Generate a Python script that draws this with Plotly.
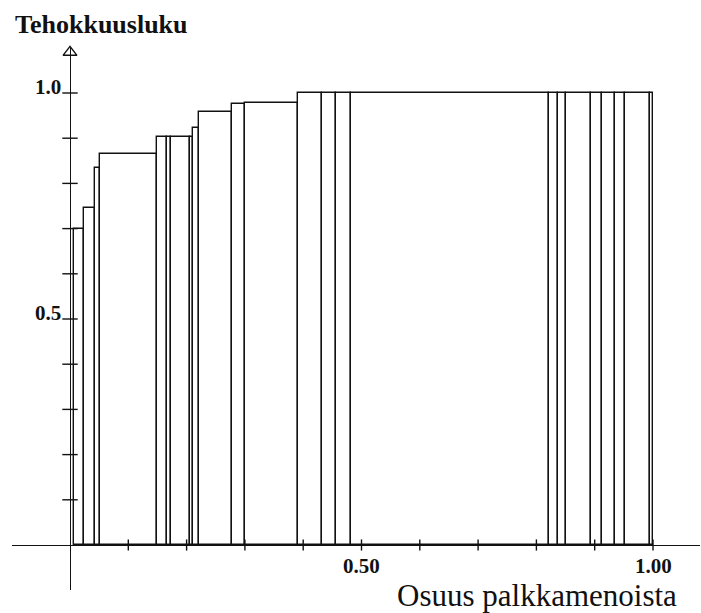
import numpy as np
import plotly.graph_objects as go

# ---- data ----
start_share = 0.0069  # gap before the first unit
shares = [0.0172, 0.0189, 0.0086, 0.0978, 0.0172, 0.0069, 0.0326, 0.0051, 0.0103,
          0.0566, 0.0223, 0.0909, 0.0412, 0.0240, 0.0257, 0.3400, 0.0154, 0.0137,
          0.0429, 0.0189, 0.0223, 0.0172, 0.0429, 0.0051]
scores = [0.700, 0.745, 0.835, 0.865, 0.903, 0.903, 0.903, 0.903, 0.922,
          0.958, 0.975, 0.978, 1.0, 1.0, 1.0, 1.0, 1.0, 1.0,
          1.0, 1.0, 1.0, 1.0, 1.0, 1.0]
y_ticks = [0.1, 0.2, 0.3, 0.4, 0.5, 0.6, 0.7, 0.8, 0.9, 1.0]
x_ticks = [0.1, 0.2, 0.3, 0.4, 0.5, 0.6, 0.7, 0.8, 0.9, 1.0]
y_labels = {0.5: "0.5", 1.0: "1.0"}
x_labels = {0.5: "0.50", 1.0: "1.00"}
y_title = "Tehokkuusluku"
x_title = "Osuus palkkamenoista"

# ---- geometry ----
w = np.array(shares)
left = start_share + np.concatenate([[0], np.cumsum(w)[:-1]])
centers = left + w / 2

INK = "#111111"
FONT = "Liberation Serif, Times New Roman, serif"

fig = go.Figure()
fig.add_trace(go.Bar(
    x=centers, y=scores, width=w,
    marker=dict(color="white", line=dict(color=INK, width=1.4)),
    hoverinfo="skip", showlegend=False,
))
# y-axis ticks (crossing)
fig.add_trace(go.Scatter(
    x=[0] * len(y_ticks), y=y_ticks, mode="markers",
    marker=dict(symbol="line-ew", size=11, line=dict(color=INK, width=1.4)),
    hoverinfo="skip", showlegend=False, cliponaxis=False,
))
# x-axis ticks (crossing)
fig.add_trace(go.Scatter(
    x=x_ticks, y=[0] * len(x_ticks), mode="markers",
    marker=dict(symbol="line-ns", size=8, line=dict(color=INK, width=1.4)),
    hoverinfo="skip", showlegend=False, cliponaxis=False,
))
# arrow head on y-axis
fig.add_trace(go.Scatter(
    x=[0], y=[1.09], mode="markers",
    marker=dict(symbol="triangle-up-open", size=12, color=INK, line=dict(color=INK, width=1.4)),
    hoverinfo="skip", showlegend=False, cliponaxis=False,
))

annotations = []
for v, t in y_labels.items():
    annotations.append(dict(x=0, y=v, xref="x", yref="y", text="<b>%s</b>" % t, showarrow=False,
                            xanchor="right", yanchor="middle", xshift=-7, yshift=6,
                            font=dict(family=FONT, size=21, color=INK)))
for v, t in x_labels.items():
    annotations.append(dict(x=v, y=0, xref="x", yref="y", text="<b>%s</b>" % t, showarrow=False,
                            xanchor="center", yanchor="middle", yshift=-21,
                            font=dict(family=FONT, size=21, color=INK)))
annotations.append(dict(x=0.0015, y=1.044, xref="paper", yref="paper", text="<b>%s</b>" % y_title,
                        showarrow=False, xanchor="left", yanchor="middle",
                        font=dict(family=FONT, size=26, color=INK)))
annotations.append(dict(x=(395 - 12) / 688, y=-0.01, xref="paper", yref="paper", text=x_title,
                        showarrow=False, xanchor="left", yanchor="middle",
                        font=dict(family=FONT, size=31, color=INK)))

fig.update_layout(
    width=701, height=613,
    margin=dict(l=12, r=1, t=48, b=23),
    paper_bgcolor="white", plot_bgcolor="white",
    bargap=0, hovermode=False,
    annotations=annotations,
    xaxis=dict(range=[-(70 - 12) / 583, (700 - 70) / 583], showgrid=False,
               zeroline=True, zerolinecolor=INK, zerolinewidth=1.4,
               showticklabels=False, ticks="", showline=False, fixedrange=True),
    yaxis=dict(range=[(545 - 590) / 452, (545 - 48) / 452], showgrid=False,
               zeroline=True, zerolinecolor=INK, zerolinewidth=1.4,
               showticklabels=False, ticks="", showline=False, fixedrange=True),
)

fig.write_html("out.html", config={"displayModeBar": False},
               post_script="document.body.style.margin='0';document.body.style.overflow='hidden';")
